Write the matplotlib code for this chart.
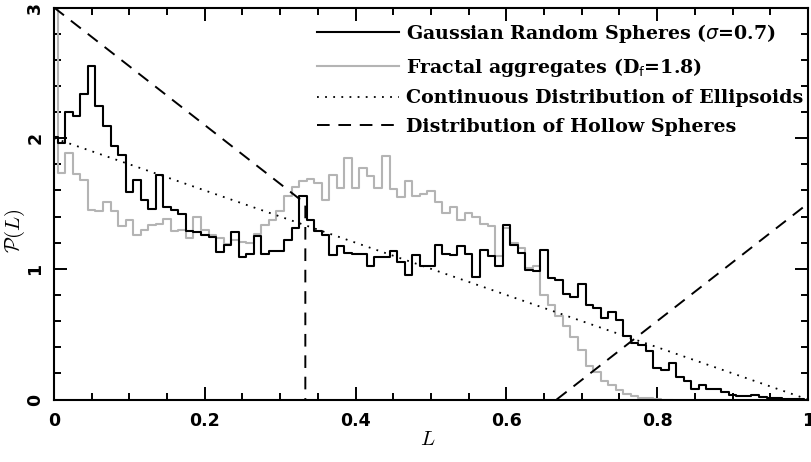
import numpy as np
import matplotlib
matplotlib.use("Agg")
import matplotlib.pyplot as plt

# histogram bin width in L, bins centred on 0.00, 0.01, ...
bin_width = 0.01

# Gaussian random spheres (sigma = 0.7), one value per bin
gaussian = [2.01, 1.96, 2.20, 2.17, 2.34, 2.55, 2.25, 2.09, 1.94, 1.87,
            1.59, 1.68, 1.53, 1.46, 1.72, 1.47, 1.45, 1.42, 1.29, 1.28,
            1.26, 1.24, 1.13, 1.18, 1.28, 1.09, 1.11, 1.25, 1.11, 1.14,
            1.14, 1.22, 1.31, 1.555, 1.376, 1.286, 1.261, 1.107, 1.171, 1.125,
            1.115, 1.11, 1.018, 1.09, 1.094, 1.133, 1.056, 0.95, 1.107, 1.02,
            1.02, 1.184, 1.11, 1.107, 1.174, 1.11, 0.936, 1.141, 1.10, 1.02,
            1.335, 1.18, 1.12, 0.99, 0.98, 1.146, 0.929, 0.916, 0.808, 0.788,
            0.885, 0.724, 0.698, 0.622, 0.672, 0.609, 0.486, 0.43, 0.417, 0.37,
            0.238, 0.225, 0.276, 0.175, 0.138, 0.084, 0.11, 0.084, 0.077, 0.058,
            0.033, 0.03, 0.025, 0.033, 0.018, 0.013, 0.008, 0.005, 0.003, 0.002,
            0.0]

# fractal aggregates (Df = 1.8)
fractal = [3.1, 1.734, 1.885, 1.725, 1.68, 1.447, 1.44, 1.509, 1.44, 1.325,
           1.371, 1.261, 1.3, 1.338, 1.34, 1.381, 1.29, 1.30, 1.235, 1.395,
           1.297, 1.261, 1.235, 1.19, 1.22, 1.205, 1.2, 1.265, 1.338, 1.37,
           1.44, 1.56, 1.627, 1.67, 1.688, 1.655, 1.525, 1.717, 1.62, 1.849,
           1.62, 1.77, 1.708, 1.615, 1.86, 1.612, 1.547, 1.67, 1.557, 1.57,
           1.593, 1.51, 1.43, 1.474, 1.376, 1.43, 1.40, 1.345, 1.33, 1.10,
           1.31, 1.2, 1.16, 1.01, 1.02, 0.80, 0.72, 0.64, 0.56, 0.48,
           0.38, 0.26, 0.21, 0.14, 0.11, 0.07, 0.04, 0.025, 0.015, 0.008,
           0.003, 0.0, 0.0]

# continuous distribution of ellipsoids (straight line)
ellipsoid_L = [0.0, 1.0]
ellipsoid_P = [2.0, 0.0]

# distribution of hollow spheres (two branches + vertical at L = 1/3)
hollow_L = [0.0, 1 / 3, 1 / 3, np.nan, 2 / 3, 1.0]
hollow_P = [3.0, 1.5, 0.0, np.nan, 0.0, 1.5]

labels = [r"Gaussian Random Spheres ($\sigma$=0.7)",
          r"Fractal aggregates (D$_{\rm f}$=1.8)",
          "Continuous Distribution of Ellipsoids",
          "Distribution of Hollow Spheres"]

fig = plt.figure(figsize=(8.12, 4.62), dpi=100)
ax = fig.add_axes([54 / 812, 1 - 399.5 / 462, 754 / 812, 392 / 462])

L_g = np.arange(len(gaussian)) * bin_width
L_f = np.arange(len(fractal)) * bin_width

ax.step(L_g, gaussian, where="mid", color="black", lw=1.5, label=labels[0], zorder=3)
ax.step(L_f, fractal, where="mid", color="#b4b4b4", lw=1.5, label=labels[1], zorder=2)
ax.plot(ellipsoid_L, ellipsoid_P, color="black", lw=1.3, dashes=(1, 3.5),
        label=labels[2], zorder=4)
ax.plot(hollow_L, hollow_P, color="black", lw=1.4, dashes=(6.5, 4.5),
        label=labels[3], zorder=4)

ax.set_xlim(0, 1)
ax.set_ylim(0, 3)
ax.set_xticks([0, 0.2, 0.4, 0.6, 0.8, 1.0])
ax.set_xticklabels(["0", "0.2", "0.4", "0.6", "0.8", "1"])
ax.set_xticks(np.arange(0, 1.001, 0.05), minor=True)
ax.set_yticks([0, 1, 2, 3])
ax.set_yticks(np.arange(0, 3.001, 0.2), minor=True)

ax.tick_params(which="both", direction="in", top=True, right=True, width=1.4)
ax.tick_params(which="major", length=9.5)
ax.tick_params(which="minor", length=4.8)
ax.tick_params(axis="x", pad=9)
ax.tick_params(axis="y", pad=7)
for t in ax.get_xticklabels() + ax.get_yticklabels():
    t.set_fontsize(12.5)
    t.set_fontweight("bold")
for t in ax.get_yticklabels():
    t.set_rotation(90)
    t.set_va("center")
for s in ax.spines.values():
    s.set_linewidth(1.5)

ax.set_xlabel(r"$L$", fontsize=15, math_fontfamily="cm")
ax.xaxis.set_label_coords(0.496, -0.075)
ax.set_ylabel(r"$\mathcal{P}(L)$", fontsize=15, math_fontfamily="cm")
ax.yaxis.set_label_coords(-0.036, 0.43)

leg = ax.legend(loc="upper right", bbox_to_anchor=(0.9934, 0.963), frameon=False,
                prop={"family": "DejaVu Serif", "weight": "bold", "size": 13.7},
                handlelength=4.3, handletextpad=0.37, labelspacing=0.56,
                borderpad=0, borderaxespad=0)

fig.savefig("out.png", dpi=100)
